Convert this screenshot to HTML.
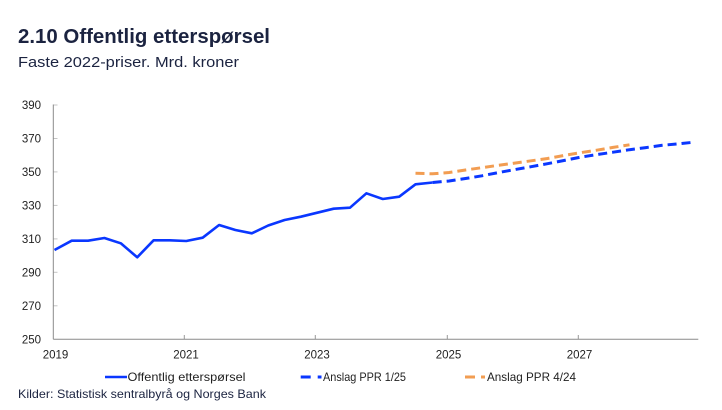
<!DOCTYPE html>
<html>
<head>
<meta charset="utf-8">
<style>
  html,body{margin:0;padding:0;background:#fff;}
  svg{display:block;}
  text{font-family:"Liberation Sans",sans-serif;}
</style>
</head>
<body>
<svg width="722" height="410" viewBox="0 0 722 410" xmlns="http://www.w3.org/2000/svg">
  <rect width="722" height="410" fill="#fff"/>
  <!-- Title -->
  <text x="18" y="43" font-size="20.5" font-weight="bold" fill="#1b2340" textLength="252" lengthAdjust="spacingAndGlyphs">2.10 Offentlig etterspørsel</text>
  <text x="18" y="67" font-size="15" fill="#1b2340" textLength="221" lengthAdjust="spacingAndGlyphs">Faste 2022-priser. Mrd. kroner</text>

  <!-- Y tick marks -->
  <g stroke="#c4c4c4" stroke-width="1">
    <line x1="53.3" y1="105" x2="57.5" y2="105"/>
    <line x1="53.3" y1="138.5" x2="57.5" y2="138.5"/>
    <line x1="53.3" y1="171.9" x2="57.5" y2="171.9"/>
    <line x1="53.3" y1="205.4" x2="57.5" y2="205.4"/>
    <line x1="53.3" y1="238.9" x2="57.5" y2="238.9"/>
    <line x1="53.3" y1="272.3" x2="57.5" y2="272.3"/>
    <line x1="53.3" y1="305.8" x2="57.5" y2="305.8"/>
  </g>
  <!-- X tick marks -->
  <g stroke="#9a9a9a" stroke-width="1">
    <line x1="184.3" y1="339.3" x2="184.3" y2="335"/>
    <line x1="315.3" y1="339.3" x2="315.3" y2="335"/>
    <line x1="447.3" y1="339.3" x2="447.3" y2="335"/>
    <line x1="578.3" y1="339.3" x2="578.3" y2="335"/>
  </g>
  <!-- Axes -->
  <line x1="53.3" y1="104.5" x2="53.3" y2="339.3" stroke="#8a8a8a" stroke-width="1"/>
  <line x1="53.3" y1="339.3" x2="698.3" y2="339.3" stroke="#8a8a8a" stroke-width="1"/>

  <!-- Y labels -->
  <g font-size="11.5" fill="#222" text-anchor="end">
    <text x="41" y="109.2">390</text>
    <text x="41" y="142.7">370</text>
    <text x="41" y="176.1">350</text>
    <text x="41" y="209.6">330</text>
    <text x="41" y="243.1">310</text>
    <text x="41" y="276.5">290</text>
    <text x="41" y="310">270</text>
    <text x="41" y="343.5">250</text>
  </g>
  <!-- X labels -->
  <g font-size="11.5" fill="#222" text-anchor="middle">
    <text x="55.5" y="358.3">2019</text>
    <text x="186" y="358.3">2021</text>
    <text x="317" y="358.3">2023</text>
    <text x="448.5" y="358.3">2025</text>
    <text x="579.5" y="358.3">2027</text>
  </g>

  <!-- Orange projection PPR 4/24 -->
  <polyline fill="none" stroke="#f29d52" stroke-width="3" stroke-dasharray="9 5"
    points="415.5,173.3 432.7,173.8 449.1,172.5 465.5,170 481.9,167.7 498.3,165.3 514.7,163.1 531.1,160.8 547.5,158.5 563.9,155.5 580.3,152.7 596.7,150.2 613.1,147.4 629.5,144.8"/>

  <!-- Blue projection PPR 1/25 -->
  <polyline fill="none" stroke="#0a37ff" stroke-width="3" stroke-dasharray="9 5"
    points="432.7,182.5 449.1,181 465.5,178.5 481.9,175.8 498.3,172.6 514.7,169.6 531.1,166.7 547.5,163.7 563.9,160.5 580.3,157.2 596.7,154.6 613.1,152.2 629.5,149.7 645.9,147.6 662.3,145.3 678.7,143.8 694,142.2"/>

  <!-- Actual series -->
  <polyline fill="none" stroke="#0a37ff" stroke-width="2.6" stroke-linejoin="round"
    points="54.5,250 71.7,240.7 88.1,240.7 104.4,238 120.8,243.3 137.2,257.3 153.6,240.3 169.9,240.3 186.3,241 202.7,237.7 219.1,225 235.4,230 251.8,233.3 268.2,225.5 284.6,220 300.9,216.7 317.3,212.7 333.7,208.7 350,207.7 366.4,193.3 382.8,199 399.2,196.7 415.5,184.3 432.7,182.5"/>

  <!-- Legend -->
  <line x1="105" y1="377" x2="127" y2="377" stroke="#0a37ff" stroke-width="2.5"/>
  <text x="127.5" y="381" font-size="12" fill="#222" textLength="118" lengthAdjust="spacingAndGlyphs">Offentlig etterspørsel</text>

  <line x1="300.7" y1="377" x2="310.7" y2="377" stroke="#0a37ff" stroke-width="3"/>
  <line x1="317.7" y1="377" x2="321.5" y2="377" stroke="#0a37ff" stroke-width="3"/>
  <text x="323" y="381" font-size="12" fill="#222" textLength="83" lengthAdjust="spacingAndGlyphs">Anslag PPR 1/25</text>

  <line x1="465" y1="377" x2="475" y2="377" stroke="#f29d52" stroke-width="3"/>
  <line x1="481" y1="377" x2="485" y2="377" stroke="#f29d52" stroke-width="3"/>
  <text x="487" y="381" font-size="12" fill="#222" textLength="89" lengthAdjust="spacingAndGlyphs">Anslag PPR 4/24</text>

  <!-- Source -->
  <text x="18" y="398" font-size="12" fill="#1b2340" textLength="248" lengthAdjust="spacingAndGlyphs">Kilder: Statistisk sentralbyrå og Norges Bank</text>
</svg>
</body>
</html>
